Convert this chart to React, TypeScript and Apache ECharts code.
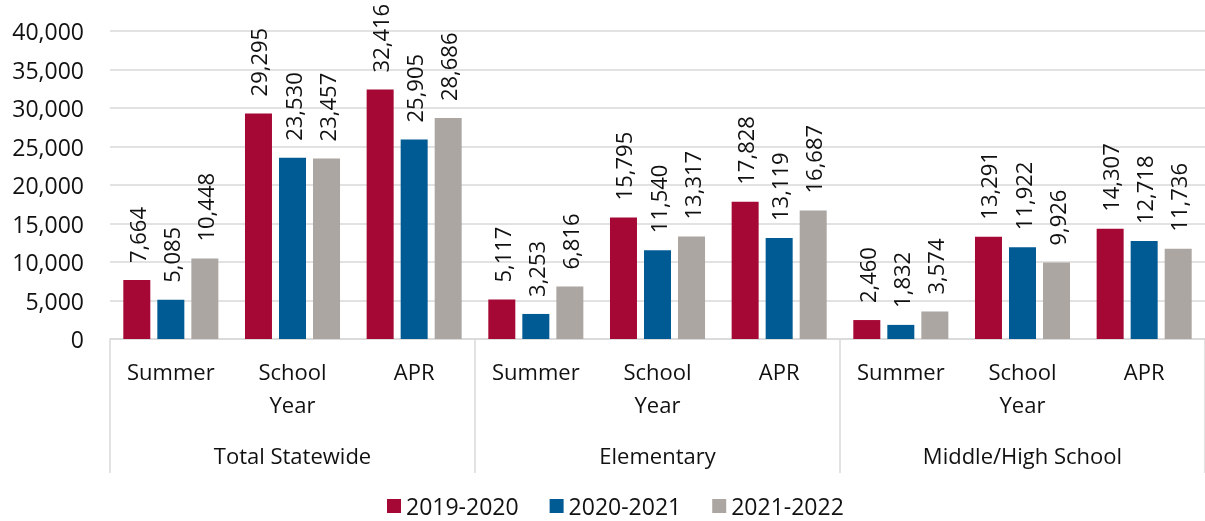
import React, { useEffect, useRef } from "react";
import * as echarts from "echarts";

const subCategories = ["Summer", "School\nYear", "APR", "Summer", "School\nYear", "APR", "Summer", "School\nYear", "APR"];
const groups = ["Total Statewide", "Elementary", "Middle/High School"];
const seriesNames = ["2019-2020", "2020-2021", "2021-2022"];
const s2019 = [7664, 29295, 32416, 5117, 15795, 17828, 2460, 13291, 14307];
const s2020 = [5085, 23530, 25905, 3253, 11540, 13119, 1832, 11922, 12718];
const s2021 = [10448, 23457, 28686, 6816, 13317, 16687, 3574, 9926, 11736];
const colors = ["#A50834", "#005A94", "#ABA6A2"];

const FONT = "Open Sans";
const fmt = (v: number) => v.toLocaleString("en-US");

export default function App() {
  const ref = useRef<HTMLDivElement>(null);
  useEffect(() => {
    if (!ref.current) return;
    const chart = echarts.init(ref.current, null, { renderer: "svg" });
    const data = [s2019, s2020, s2021];
    chart.setOption({
      animation: false,
      color: colors,
      textStyle: { fontFamily: FONT, color: "#111" },
      grid: { left: 110, width: 1100, top: 31, bottom: 182, containLabel: false },
      legend: {
        data: seriesNames,
        left: 387,
        top: 494,
        itemWidth: 14,
        itemHeight: 14,
        itemGap: 31,
        icon: "rect",
        padding: 0,
        textStyle: { fontFamily: FONT, fontSize: 23, color: "#111", lineHeight: 24 },
      },
      xAxis: [
        {
          type: "category",
          data: subCategories,
          position: "bottom",
          axisLine: { show: true, lineStyle: { color: "#d9d9d9", width: 1.5 } },
          axisTick: { show: false },
          axisLabel: {
            interval: 0,
            margin: 15,
            fontFamily: FONT,
            fontSize: 22,
            lineHeight: 33,
            color: "#111",
          },
        },
        {
          type: "category",
          data: groups,
          position: "bottom",
          axisLine: { show: false },
          axisTick: { show: true, length: 134, lineStyle: { color: "#d9d9d9", width: 1.5 } },
          axisLabel: {
            interval: 0,
            margin: 105,
            fontFamily: FONT,
            fontSize: 22,
            color: "#111",
          },
          splitLine: { show: false },
        },
      ],
      yAxis: {
        type: "value",
        min: 0,
        max: 40000,
        interval: 5000,
        axisLine: { show: false },
        axisTick: { show: false },
        splitLine: { lineStyle: { color: "#d9d9d9", width: 1.5 } },
        axisLabel: {
          margin: 26,
          fontFamily: FONT,
          fontSize: 23,
          color: "#111",
          formatter: (v: number) => fmt(v),
        },
      },
      series: seriesNames.map((name, i) => ({
        name,
        type: "bar",
        data: data[i],
        barWidth: 27,
        barGap: "26%",
        itemStyle: { color: colors[i] },
        label: {
          show: true,
          position: "top",
          rotate: 90,
          align: "left",
          verticalAlign: "middle",
          distance: 17,
          fontFamily: FONT,
          fontSize: 22,
          color: "#111",
          formatter: (p: any) => fmt(p.value),
        },
      })),
    });
    return () => chart.dispose();
  }, []);
  return (
    <div
      ref={ref}
      style={{ position: "fixed", left: 0, top: 0, width: 1205, height: 521 }}
    />
  );
}
